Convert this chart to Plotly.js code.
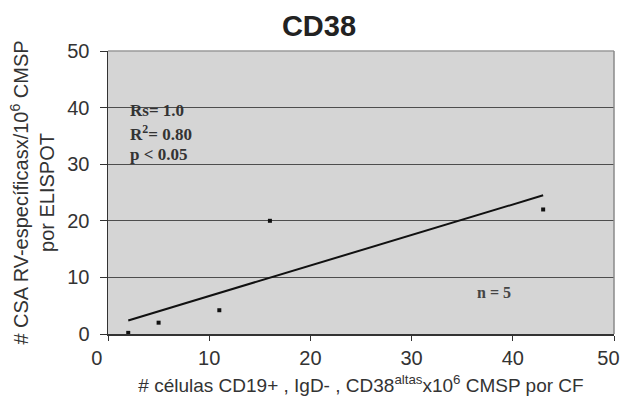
<!DOCTYPE html>
<html>
<head>
<meta charset="utf-8">
<script src="https://cdn.plot.ly/plotly-3.0.1.min.js"></script>
<style>html,body{margin:0;padding:0;background:#fff;}#chart{width:623px;height:400px;}</style>
</head>
<body>
<div id="chart"></div>
<script>
const cellsX = [2, 5, 11, 16, 43];
const csaY = [0.2, 2, 4.2, 20, 22];
const trendX = [2, 43];
const trendY = [2.4, 24.5];
const tickVals = [0, 10, 20, 30, 40, 50];
const xTickText = ['0\u00a0\u00a0\u00a0\u00a0', '10', '20', '30', '40', '50\u00a0\u00a0'];
const yTickText = ['0', '10', '20', '30', '40', '50'];

const traces = [
  {x: trendX, y: trendY, mode: 'lines', type: 'scatter', line: {color: '#111', width: 2}, hoverinfo: 'skip'},
  {x: cellsX, y: csaY, mode: 'markers', type: 'scatter', marker: {symbol: 'square', size: 4, color: '#111'}}
];

const serif = 'Liberation Serif, Times New Roman, serif';
const layout = {
  width: 623, height: 400,
  margin: {l: 108, r: 9, t: 51, b: 66},
  paper_bgcolor: '#fff', plot_bgcolor: '#d5d5d5',
  showlegend: false,
  font: {family: 'Liberation Sans, Arial, sans-serif', size: 20, color: '#333'},
  title: {text: '<b>CD38</b>', xref: 'container', x: 0.512, xanchor: 'center', yref: 'container', y: 0.935, yanchor: 'middle', font: {size: 29, color: '#222'}},
  xaxis: {
    range: [0, 50], tickvals: tickVals, ticktext: xTickText, showgrid: false, zeroline: false,
    showline: true, linecolor: '#333', linewidth: 1.5,
    ticks: 'outside', ticklen: 5, tickcolor: '#333', ticklabeloverflow: 'allow',
    tickfont: {size: 20, color: '#333'},
    title: {text: '# células CD19+ , IgD- , CD38<sup>altas</sup>x10<sup>6</sup> CMSP por CF', font: {size: 19, color: '#333'}, standoff: 11}
  },
  yaxis: {
    range: [0, 50], tickvals: tickVals, ticktext: yTickText, showgrid: true, gridcolor: '#4d4d4d', gridwidth: 1.2, zeroline: false,
    showline: true, linecolor: '#333', linewidth: 1.5,
    ticks: 'outside', ticklen: 7, tickcolor: '#333', ticklabelstandoff: 6,
    tickfont: {size: 20, color: '#333'},
    title: {text: '# CSA RV-específicasx/10<sup>6</sup> CMSP<br>por ELISPOT', font: {size: 20, color: '#333'}, standoff: 7}
  },
  shapes: [
    {type: 'line', xref: 'paper', yref: 'paper', x0: 0, x1: 1, y0: 1, y1: 1, line: {color: '#9a9a9a', width: 1.5}, layer: 'above'},
    {type: 'line', xref: 'paper', yref: 'paper', x0: 1, x1: 1, y0: 0, y1: 1, line: {color: '#8a8a8a', width: 1.5}, layer: 'above'}
  ],
  annotations: [
    {xref: 'paper', yref: 'paper', x: 0.04, y: 0.789, xanchor: 'left', yanchor: 'middle', showarrow: false, align: 'left',
     text: '<b>Rs= 1.0</b>', font: {family: serif, size: 17, color: '#333'}},
    {xref: 'paper', yref: 'paper', x: 0.04, y: 0.71, xanchor: 'left', yanchor: 'middle', showarrow: false, align: 'left',
     text: '<b>R<sup>2</sup>= 0.80</b>', font: {family: serif, size: 17, color: '#333'}},
    {xref: 'paper', yref: 'paper', x: 0.04, y: 0.635, xanchor: 'left', yanchor: 'middle', showarrow: false, align: 'left',
     text: '<b>p &lt; 0.05</b>', font: {family: serif, size: 17, color: '#333'}},
    {xref: 'paper', yref: 'paper', x: 0.725, y: 0.145, xanchor: 'left', yanchor: 'middle', showarrow: false, align: 'left',
     text: '<b>n = 5</b>', font: {family: serif, size: 16, color: '#444'}}
  ]
};

Plotly.newPlot('chart', traces, layout, {staticPlot: true, displayModeBar: false});
</script>
</body>
</html>
